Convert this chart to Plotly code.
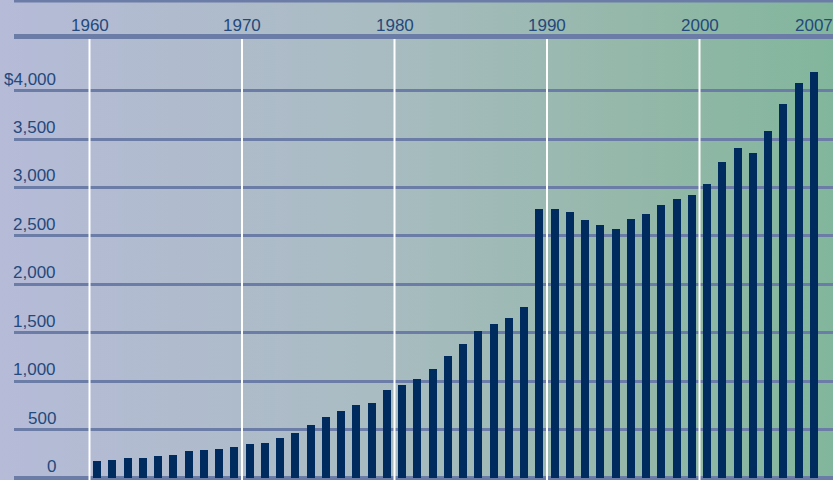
import base64
import plotly.graph_objects as go

# ---- data ----
years = list(range(1960, 2008))
values = [175, 185, 206, 205, 226, 237, 278, 288, 299, 319,
          350, 361, 412, 464, 546, 629, 691, 753, 774, 908,
          960, 1022, 1125, 1259, 1383, 1518, 1590, 1652, 1766, 2776,
          2776, 2747, 2664, 2612, 2571, 2674, 2726, 2819, 2881, 2922,
          3036, 3263, 3408, 3356, 3584, 3863, 4080, 4193]
decades = [1960, 1970, 1980, 1990, 2000]
x_tick_labels = ["1960", "1970", "1980", "1990", "2000", "2007"]
y_ticks = [0, 500, 1000, 1500, 2000, 2500, 3000, 3500, 4000]
y_tick_labels = ["0", "500", "1,000", "1,500", "2,000", "2,500", "3,000", "3,500", "$4,000"]

# ---- style ----
BAR = "#002b5f"
LINE = "#6b7ca7"
TEXT = "#24497c"
FONT = "Liberation Sans, Arial, sans-serif"
FS = 17

svg = (
    '<svg xmlns="http://www.w3.org/2000/svg" width="833" height="480" preserveAspectRatio="none">'
    '<defs><linearGradient id="g" x1="0" y1="0" x2="1" y2="0">'
    '<stop offset="0" stop-color="#b6bbd8"/>'
    '<stop offset="0.45" stop-color="#a9bcc2"/>'
    '<stop offset="0.75" stop-color="#95b8aa"/>'
    '<stop offset="1" stop-color="#82b69c"/>'
    '</linearGradient></defs>'
    '<rect width="833" height="480" fill="url(#g)"/></svg>'
)
bg_uri = "data:image/svg+xml;base64," + base64.b64encode(svg.encode()).decode()

fig = go.Figure()
fig.add_trace(go.Bar(x=years, y=values, width=0.53, marker=dict(color=BAR, line=dict(width=0)),
                     hoverinfo="x+y"))

shapes = []
for d in decades:
    shapes.append(dict(type="line", xref="x", yref="paper", x0=d - 0.5, x1=d - 0.5, y0=0, y1=1,
                       line=dict(color="white", width=2), layer="above"))
# thin top rule
shapes.append(dict(type="line", xref="paper", yref="paper", x0=0, x1=1, y0=1 + 38 / 441, y1=1 + 38 / 441,
                   line=dict(color=LINE, width=3)))

annotations = []
for v, t in zip(y_ticks, y_tick_labels):
    annotations.append(dict(xref="paper", yref="y", x=(57.5 - 14) / 819, y=v, text=t, showarrow=False,
                            xanchor="right", yanchor="bottom", yshift=0,
                            font=dict(family=FONT, size=FS, color=TEXT)))

x_tick_pos = [d - 0.5 for d in decades] + [years[-1]]
for xv, t in zip(x_tick_pos, x_tick_labels):
    annotations.append(dict(xref="x", yref="paper", x=xv, y=1 + 2 / 441, text=t, showarrow=False,
                            xanchor="center", yanchor="bottom",
                            font=dict(family=FONT, size=FS, color=TEXT)))

fig.update_layout(
    width=833, height=480,
    margin=dict(l=14, r=0, t=39, b=0),
    paper_bgcolor="rgba(0,0,0,0)",
    plot_bgcolor="rgba(0,0,0,0)",
    showlegend=False,
    bargap=0,
    images=[dict(source=bg_uri, xref="paper", yref="paper", x=-14 / 819, y=1 + 39 / 441,
                 sizex=833 / 819, sizey=480 / 441, sizing="stretch", xanchor="left", yanchor="top",
                 layer="below")],
    shapes=shapes,
    annotations=annotations,
    xaxis=dict(range=[1954.549, 2008.254], side="top", showticklabels=False,
               showgrid=False, zeroline=False, showline=True, linecolor=LINE, linewidth=5,
               ticks="", fixedrange=True),
    yaxis=dict(range=[-21.7, 4534], tickvals=y_ticks, showticklabels=False, showgrid=True,
               gridcolor=LINE, gridwidth=2.5, zeroline=True, zerolinecolor=LINE, zerolinewidth=4,
               showline=False, ticks="", fixedrange=True),
)

fig.write_html("out.html")
